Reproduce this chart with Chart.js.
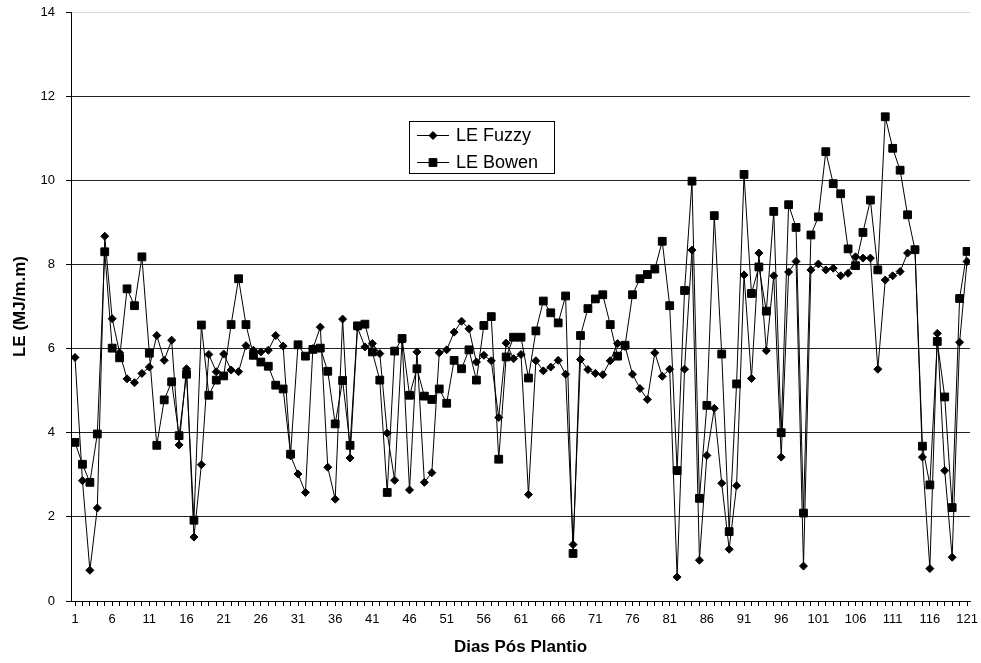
<!DOCTYPE html>
<html>
<head>
<meta charset="utf-8">
<script src="https://cdn.jsdelivr.net/npm/chart.js@4/dist/chart.umd.min.js"></script>
<style>
  body { margin: 0; background: #fff; }
  #wrap { width: 981px; height: 663px; }
</style>
</head>
<body>
<div id="wrap"><canvas id="leChart" width="981" height="663"></canvas></div>
<script>
// Dias pos plantio 1..121
const days = [];
for (let d = 1; d <= 121; d++) days.push(d);

const yTicks = [0, 2, 4, 6, 8, 10, 12, 14];

// LE Fuzzy (MJ/m.m)
const leFuzzy = [
  5.79, 2.86, 0.73, 2.21, 8.67, 6.71, 5.90, 5.28, 5.19, 5.41,
  5.56, 6.31, 5.72, 6.20, 3.71, 5.52, 1.52, 3.24, 5.86, 5.45,
  5.87, 5.49, 5.45, 6.07, 5.96, 5.92, 5.96, 6.31, 6.06, 3.45,
  3.02, 2.58, 6.00, 6.51, 3.18, 2.42, 6.70, 3.40, 6.50, 6.04,
  6.12, 5.88, 3.99, 2.87, 6.20, 2.64, 5.92, 2.82, 3.05, 5.90,
  5.97, 6.39, 6.65, 6.47, 5.68, 5.84, 5.71, 4.36, 6.13, 5.76,
  5.86, 2.53, 5.71, 5.47, 5.56, 5.72, 5.39, 1.34, 5.74, 5.50,
  5.41, 5.38, 5.71, 6.12, 6.05, 5.39, 5.05, 4.79, 5.90, 5.34,
  5.51, 0.57, 5.51, 8.34, 0.97, 3.46, 4.58, 2.80, 1.23, 2.74,
  7.75, 5.29, 8.27, 5.95, 7.73, 3.42, 7.82, 8.07, 0.83, 7.87,
  8.01, 7.87, 7.91, 7.73, 7.79, 8.18, 8.15, 8.15, 5.51, 7.63,
  7.73, 7.83, 8.27, 8.35, 3.42, 0.77, 6.36, 3.10, 1.04, 6.15,
  8.07
];

// LE Bowen (MJ/m.m)
const leBowen = [
  3.77, 3.25, 2.82, 3.97, 8.30, 6.01, 5.78, 7.42, 7.02, 8.18,
  5.89, 3.70, 4.78, 5.21, 3.93, 5.39, 1.92, 6.56, 4.89, 5.25,
  5.35, 6.57, 7.66, 6.57, 5.84, 5.68, 5.58, 5.13, 5.04, 3.49,
  6.09, 5.82, 5.98, 6.01, 5.46, 4.21, 5.24, 3.70, 6.54, 6.58,
  5.92, 5.25, 2.58, 5.94, 6.24, 4.89, 5.52, 4.87, 4.79, 5.04,
  4.70, 5.72, 5.52, 5.97, 5.25, 6.55, 6.76, 3.37, 5.80, 6.27,
  6.27, 5.30, 6.42, 7.13, 6.85, 6.61, 7.25, 1.13, 6.31, 6.95,
  7.18, 7.28, 6.57, 5.82, 6.08, 7.28, 7.66, 7.76, 7.89, 8.55,
  7.02, 3.10, 7.38, 9.98, 2.44, 4.65, 9.16, 5.87, 1.65, 5.16,
  10.14, 7.31, 7.94, 6.89, 9.26, 4.00, 9.42, 8.88, 2.09, 8.70,
  9.13, 10.68, 9.92, 9.68, 8.37, 7.97, 8.76, 9.53, 7.87, 11.51,
  10.76, 10.24, 9.18, 8.35, 3.68, 2.76, 6.17, 4.85, 2.22, 7.19,
  8.31
];

const fontFamily = '"Liberation Sans", Arial, sans-serif';

// legend drawn inside the plot, as in the original figure
const boxLegend = {
  id: 'boxLegend',
  afterDraw(chart) {
    const ctx = chart.ctx;
    const x = 409, y = 121, w = 145, h = 52;
    ctx.save();
    ctx.fillStyle = '#fff';
    ctx.fillRect(x, y, w, h);
    ctx.strokeStyle = '#000';
    ctx.lineWidth = 1;
    ctx.strokeRect(x + 0.5, y + 0.5, w, h);
    const rows = [
      { text: 'LE Fuzzy', style: 'rectRot', r: 4, cy: y + 14 },
      { text: 'LE Bowen', style: 'rect', r: 5.5, cy: y + 41 }
    ];
    rows.forEach(row => {
      ctx.strokeStyle = '#000';
      ctx.lineWidth = 1;
      ctx.beginPath();
      ctx.moveTo(x + 8, row.cy + 0.5);
      ctx.lineTo(x + 40, row.cy + 0.5);
      ctx.stroke();
      ctx.fillStyle = '#000';
      Chart.helpers.drawPoint(ctx, { pointStyle: row.style, radius: row.r, borderWidth: 1, rotation: 0 }, x + 24, row.cy + 0.5);
      ctx.font = '18px ' + fontFamily;
      ctx.textBaseline = 'middle';
      ctx.textAlign = 'left';
      ctx.fillText(row.text, x + 47, row.cy + 1);
    });
    ctx.restore();
  }
};

new Chart(document.getElementById('leChart').getContext('2d'), {
  type: 'line',
  data: {
    datasets: [{
      label: 'LE Fuzzy',
      data: days.map((d, i) => ({ x: d, y: leFuzzy[i] })),
      borderColor: '#000',
      borderWidth: 1,
      backgroundColor: '#000',
      pointStyle: 'rectRot',
      pointRadius: 4,
      pointBorderWidth: 1,
      tension: 0,
      order: 1
    }, {
      label: 'LE Bowen',
      data: days.map((d, i) => ({ x: d, y: leBowen[i] })),
      borderColor: '#000',
      borderWidth: 1,
      backgroundColor: '#000',
      pointStyle: 'rect',
      pointRadius: 5.5,
      pointBorderWidth: 1,
      tension: 0,
      order: 0
    }]
  },
  options: {
    responsive: false,
    animation: false,
    layout: { padding: { top: 12, right: 11, left: 0, bottom: 0 } },
    plugins: {
      legend: { display: false },
      tooltip: { enabled: false }
    },
    scales: {
      x: {
        type: 'linear',
        min: 0.46,
        max: 121.4,
        afterBuildTicks: scale => { scale.ticks = days.map(v => ({ value: v })); },
        afterFit: scale => {
          scale.height = 62;
          scale.paddingLeft = 0;
          scale.paddingRight = 0;
        },
        grid: { drawOnChartArea: false, drawTicks: true, tickLength: 5, color: '#000' },
        border: { color: '#000', width: 1 },
        ticks: {
          autoSkip: false,
          maxRotation: 0,
          padding: 6,
          color: '#000',
          font: { family: fontFamily, size: 13 },
          callback: v => ((v - 1) % 5 === 0 ? String(v) : '')
        },
        title: {
          display: true,
          text: 'Dias Pós Plantio',
          color: '#000',
          font: { family: fontFamily, size: 17, weight: 'bold' },
          padding: { top: 0, bottom: 5 }
        }
      },
      y: {
        min: 0,
        max: 14,
        afterBuildTicks: scale => { scale.ticks = yTicks.map(v => ({ value: v })); },
        afterFit: scale => {
          scale.width = 71;
          scale.paddingTop = 0;
          scale.paddingBottom = 0;
        },
        grid: {
          color: c => (c.tick && c.tick.value === 14 ? '#d8d8d8' : '#222'),
          tickColor: '#000',
          tickLength: 5
        },
        border: { color: '#000', width: 1 },
        ticks: {
          padding: 11,
          color: '#000',
          font: { family: fontFamily, size: 13 }
        },
        title: {
          display: true,
          text: 'LE (MJ/m.m)',
          color: '#000',
          font: { family: fontFamily, size: 17, weight: 'bold' },
          padding: { top: 10, bottom: 0 }
        }
      }
    }
  },
  plugins: [boxLegend]
});
</script>
</body>
</html>
